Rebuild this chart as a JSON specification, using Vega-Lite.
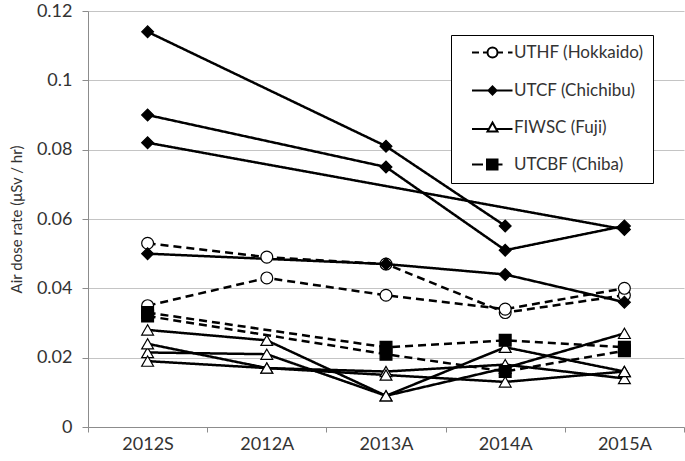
{
  "$schema": "https://vega.github.io/schema/vega-lite/v6.json",
  "width": 596,
  "height": 416,
  "autosize": {"type": "none"},
  "padding": {"left": 88, "top": 11, "right": 1, "bottom": 34},
  "background": "white",
  "config": {
    "font": "Lato",
    "view": {"stroke": null},
    "axis": {"labelFont": "Lato", "titleFont": "Lato", "labelColor": "#333", "titleColor": "#333", "domainColor": "#8c8c8c", "tickColor": "#8c8c8c", "gridColor": "#c4c4c4", "labelFontSize": 18, "titleFontSize": 15, "titleFontWeight": "normal"}
  },
  "data": {
    "values": [
      {"site": "UTHF (Hokkaido)", "sid": "H1", "period": "2012S", "value": 0.053},
      {"site": "UTHF (Hokkaido)", "sid": "H1", "period": "2012A", "value": 0.049},
      {"site": "UTHF (Hokkaido)", "sid": "H1", "period": "2013A", "value": 0.047},
      {"site": "UTHF (Hokkaido)", "sid": "H1", "period": "2014A", "value": 0.033},
      {"site": "UTHF (Hokkaido)", "sid": "H1", "period": "2015A", "value": 0.038},
      {"site": "UTHF (Hokkaido)", "sid": "H2", "period": "2012S", "value": 0.035},
      {"site": "UTHF (Hokkaido)", "sid": "H2", "period": "2012A", "value": 0.043},
      {"site": "UTHF (Hokkaido)", "sid": "H2", "period": "2013A", "value": 0.038},
      {"site": "UTHF (Hokkaido)", "sid": "H2", "period": "2014A", "value": 0.034},
      {"site": "UTHF (Hokkaido)", "sid": "H2", "period": "2015A", "value": 0.040},
      {"site": "UTCF (Chichibu)", "sid": "K1", "period": "2012S", "value": 0.114},
      {"site": "UTCF (Chichibu)", "sid": "K1", "period": "2013A", "value": 0.081},
      {"site": "UTCF (Chichibu)", "sid": "K1", "period": "2014A", "value": 0.058},
      {"site": "UTCF (Chichibu)", "sid": "K2", "period": "2012S", "value": 0.090},
      {"site": "UTCF (Chichibu)", "sid": "K2", "period": "2013A", "value": 0.075},
      {"site": "UTCF (Chichibu)", "sid": "K2", "period": "2014A", "value": 0.051},
      {"site": "UTCF (Chichibu)", "sid": "K2", "period": "2015A", "value": 0.058},
      {"site": "UTCF (Chichibu)", "sid": "K3", "period": "2012S", "value": 0.082},
      {"site": "UTCF (Chichibu)", "sid": "K3", "period": "2015A", "value": 0.057},
      {"site": "UTCF (Chichibu)", "sid": "K4", "period": "2012S", "value": 0.050},
      {"site": "UTCF (Chichibu)", "sid": "K4", "period": "2013A", "value": 0.047},
      {"site": "UTCF (Chichibu)", "sid": "K4", "period": "2014A", "value": 0.044},
      {"site": "UTCF (Chichibu)", "sid": "K4", "period": "2015A", "value": 0.036},
      {"site": "FIWSC (Fuji)", "sid": "F1", "period": "2012S", "value": 0.028},
      {"site": "FIWSC (Fuji)", "sid": "F1", "period": "2012A", "value": 0.025},
      {"site": "FIWSC (Fuji)", "sid": "F1", "period": "2013A", "value": 0.009},
      {"site": "FIWSC (Fuji)", "sid": "F1", "period": "2014A", "value": 0.023},
      {"site": "FIWSC (Fuji)", "sid": "F1", "period": "2015A", "value": 0.016},
      {"site": "FIWSC (Fuji)", "sid": "F2", "period": "2012S", "value": 0.0215},
      {"site": "FIWSC (Fuji)", "sid": "F2", "period": "2012A", "value": 0.021},
      {"site": "FIWSC (Fuji)", "sid": "F2", "period": "2013A", "value": 0.009},
      {"site": "FIWSC (Fuji)", "sid": "F2", "period": "2014A", "value": 0.017},
      {"site": "FIWSC (Fuji)", "sid": "F2", "period": "2015A", "value": 0.027},
      {"site": "FIWSC (Fuji)", "sid": "F3", "period": "2012S", "value": 0.024},
      {"site": "FIWSC (Fuji)", "sid": "F3", "period": "2012A", "value": 0.017},
      {"site": "FIWSC (Fuji)", "sid": "F3", "period": "2013A", "value": 0.016},
      {"site": "FIWSC (Fuji)", "sid": "F3", "period": "2014A", "value": 0.018},
      {"site": "FIWSC (Fuji)", "sid": "F3", "period": "2015A", "value": 0.014},
      {"site": "FIWSC (Fuji)", "sid": "F4", "period": "2012S", "value": 0.019},
      {"site": "FIWSC (Fuji)", "sid": "F4", "period": "2012A", "value": 0.017},
      {"site": "FIWSC (Fuji)", "sid": "F4", "period": "2013A", "value": 0.015},
      {"site": "FIWSC (Fuji)", "sid": "F4", "period": "2014A", "value": 0.013},
      {"site": "FIWSC (Fuji)", "sid": "F4", "period": "2015A", "value": 0.016},
      {"site": "UTCBF (Chiba)", "sid": "C1", "period": "2012S", "value": 0.033},
      {"site": "UTCBF (Chiba)", "sid": "C1", "period": "2013A", "value": 0.023},
      {"site": "UTCBF (Chiba)", "sid": "C1", "period": "2014A", "value": 0.025},
      {"site": "UTCBF (Chiba)", "sid": "C1", "period": "2015A", "value": 0.023},
      {"site": "UTCBF (Chiba)", "sid": "C2", "period": "2012S", "value": 0.032},
      {"site": "UTCBF (Chiba)", "sid": "C2", "period": "2013A", "value": 0.021},
      {"site": "UTCBF (Chiba)", "sid": "C2", "period": "2014A", "value": 0.016},
      {"site": "UTCBF (Chiba)", "sid": "C2", "period": "2015A", "value": 0.022}
    ]
  },
  "encoding": {
    "x": {
      "field": "period", "type": "ordinal",
      "sort": ["2012S", "2012A", "2013A", "2014A", "2015A"],
      "scale": {"type": "band", "paddingInner": 0, "paddingOuter": 0},
      "axis": {"title": null, "labelAngle": 0, "tickBand": "extent", "tickSize": 5, "labelPadding": 3, "grid": false}
    },
    "y": {
      "field": "value", "type": "quantitative",
      "scale": {"domain": [0, 0.12], "nice": false, "zero": true},
      "axis": {"title": "Air dose rate (μSv / hr)", "values": [0, 0.02, 0.04, 0.06, 0.08, 0.1, 0.12], "format": ".2~f", "tickSize": 6, "labelPadding": 10, "titlePadding": 12, "grid": true}
    }
  },
  "resolve": {"scale": {"shape": "independent", "fill": "independent", "stroke": "independent"}},
  "layer": [
    {
      "mark": {"type": "line", "color": "black", "strokeWidth": 2.5},
      "encoding": {
        "detail": {"field": "sid"},
        "strokeDash": {"condition": {"test": "datum.site === 'UTHF (Hokkaido)' || datum.site === 'UTCBF (Chiba)'", "value": [8, 5]}, "value": [1, 0]}
      }
    },
    {
      "mark": {"type": "point", "filled": true, "stroke": "black", "strokeWidth": 1.2, "size": 140, "opacity": 1},
      "encoding": {
        "fill": {"condition": {"test": "datum.site === 'UTHF (Hokkaido)' || datum.site === 'FIWSC (Fuji)'", "value": "white"}, "value": "black"},
        "shape": {
          "field": "site", "type": "nominal",
          "scale": {"domain": ["UTHF (Hokkaido)", "UTCF (Chichibu)", "FIWSC (Fuji)", "UTCBF (Chiba)"], "range": ["circle", "diamond", "triangle-up", "square"]},
          "legend": null
        }
      }
    },
    {
      "mark": {"type": "point", "filled": true, "strokeWidth": 2, "size": 100, "opacity": 0},
      "encoding": {
        "fill": {
          "field": "site", "type": "nominal",
          "scale": {"domain": ["UTHF (Hokkaido)", "UTCF (Chichibu)", "FIWSC (Fuji)", "UTCBF (Chiba)"], "range": ["white", "black", "white", "black"]}
        },
        "stroke": {
          "field": "site", "type": "nominal",
          "scale": {"domain": ["UTHF (Hokkaido)", "UTCF (Chichibu)", "FIWSC (Fuji)", "UTCBF (Chiba)"], "range": ["black", "black", "black", "black"]}
        },
        "shape": {
          "field": "site", "type": "nominal",
          "scale": {
            "domain": ["UTHF (Hokkaido)", "UTCF (Chichibu)", "FIWSC (Fuji)", "UTCBF (Chiba)"],
            "range": [
              "M-4.1,0H-2.7M-1.9,0H-1M1,0A1,1,0,1,1,-1,0A1,1,0,1,1,1,0ZM1,0H2.1M3.1,0H4",
              "M-4.1,0H4M0,-0.8L0.8,0L0,0.8L-0.8,0Z",
              "M-4.1,0.3H-0.7M0.7,0.3H4M0,-1L1,0.8L-1,0.8Z",
              "M-4.1,0H-1.9M-1.1,-1H1V1H-1.1ZM1,0H2"
            ]
          },
          "legend": {
            "title": null,
            "orient": "none",
            "legendX": 363,
            "legendY": 24,
            "padding": 9,
            "strokeColor": "black",
            "fillColor": "white",
            "labelFontSize": 17,
            "labelFont": "Lato",
            "labelColor": "#333",
            "symbolSize": 100,
            "symbolOffset": 24,
            "labelOffset": 13,
            "rowPadding": 19,
            "symbolStrokeWidth": 2,
            "symbolOpacity": 1
          }
        }
      }
    }
  ]
}
